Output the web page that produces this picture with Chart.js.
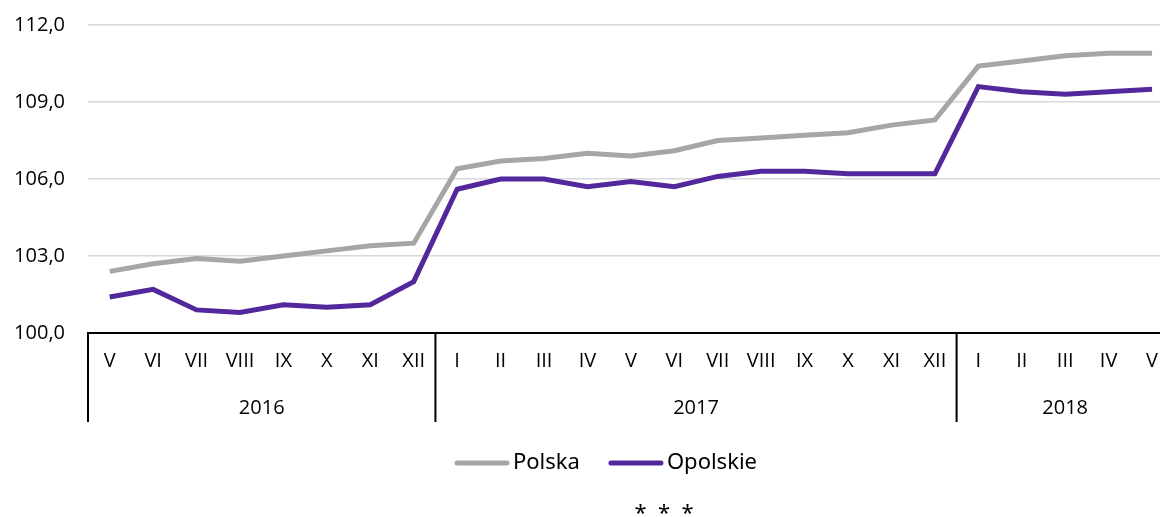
<!DOCTYPE html>
<html>
<head>
<meta charset="utf-8">
<script src="https://cdn.jsdelivr.net/npm/chart.js@4.4.1/dist/chart.umd.min.js"></script>
<style>
  html, body { margin: 0; padding: 0; background: #fff; overflow: hidden; }
  #wrap { position: relative; width: 1174px; height: 517px; }
</style>
</head>
<body>
<div id="wrap"><canvas id="chart"></canvas></div>
<script>
const months = ["V","VI","VII","VIII","IX","X","XI","XII",
  "I","II","III","IV","V","VI","VII","VIII","IX","X","XI","XII",
  "I","II","III","IV","V"];
const years = [
  { label: "2016", from: 0, to: 7 },
  { label: "2017", from: 8, to: 19 },
  { label: "2018", from: 20, to: 24 }
];
const polska = [102.4, 102.7, 102.9, 102.8, 103.0, 103.2, 103.4, 103.5,
  106.4, 106.7, 106.8, 107.0, 106.9, 107.1, 107.5, 107.6, 107.7, 107.8, 108.1, 108.3,
  110.4, 110.6, 110.8, 110.9, 110.9];
const opolskie = [101.4, 101.7, 100.9, 100.8, 101.1, 101.0, 101.1, 102.0,
  105.6, 106.0, 106.0, 105.7, 105.9, 105.7, 106.1, 106.3, 106.3, 106.2, 106.2, 106.2,
  109.6, 109.4, 109.3, 109.4, 109.5];
const yTicks = [100, 103, 106, 109, 112];

const GRAY = "#a6a6a6";
const PURPLE = "#53289c";

// year row, separators, legend and the stars under it
const extras = {
  id: "extras",
  afterDraw(c) {
    const ctx = c.ctx;
    const x = c.scales.x;
    const top = c.chartArea.bottom;
    const half = (x.getPixelForValue(1) - x.getPixelForValue(0)) / 2;
    ctx.save();
    ctx.strokeStyle = "#000";
    ctx.lineWidth = 2;
    ctx.fillStyle = "#000";
    ctx.font = "20px 'Open Sans'";
    ctx.textAlign = "center";
    ctx.textBaseline = "middle";
    years.forEach(y => {
      const l = x.getPixelForValue(y.from) - half;
      const r = x.getPixelForValue(y.to) + half;
      ctx.beginPath();
      ctx.moveTo(l, top);
      ctx.lineTo(l, top + 89);
      ctx.stroke();
      ctx.fillText(y.label, (l + r) / 2, top + 75);
    });

    // legend
    ctx.font = "22px 'Noto Sans'";
    ctx.textAlign = "left";
    ctx.lineCap = "round";
    ctx.lineWidth = 5;
    let lx = 457;
    const ly = 463;
    c.data.datasets.forEach(ds => {
      ctx.strokeStyle = ds.borderColor;
      ctx.beginPath();
      ctx.moveTo(lx, ly);
      ctx.lineTo(lx + 50, ly);
      ctx.stroke();
      ctx.fillStyle = "#000";
      ctx.fillText(ds.label, lx + 56, ly);
      lx += 56 + ctx.measureText(ds.label).width + 31;
    });

    ctx.font = "22px 'Noto Sans'";
    ctx.textAlign = "center";
    ctx.fillText("*  *  *", 664, 514);
    ctx.restore();
  }
};

new Chart(document.getElementById("chart"), {
  type: "line",
  data: {
    labels: months,
    datasets: [
      { label: "Polska", data: polska, borderColor: GRAY, backgroundColor: GRAY,
        borderWidth: 5, pointRadius: 0, tension: 0 },
      { label: "Opolskie", data: opolskie, borderColor: PURPLE, backgroundColor: PURPLE,
        borderWidth: 5, pointRadius: 0, tension: 0 }
    ]
  },
  options: {
    responsive: true,
    maintainAspectRatio: false,
    animation: false,
    layout: { padding: { top: 25, right: 0, bottom: 95, left: 0 } },
    plugins: { legend: { display: false }, tooltip: { enabled: false } },
    scales: {
      x: {
        offset: true,
        grid: { display: false, drawTicks: false },
        border: { display: true, color: "#000", width: 2 },
        ticks: {
          color: "#000", font: { family: "Open Sans", size: 20 },
          padding: 16, maxRotation: 0, autoSkip: false
        },
        afterFit(s) { s.height = 89; }
      },
      y: {
        min: 100, max: 112,
        afterBuildTicks(s) { s.ticks = yTicks.map(v => ({ value: v })); },
        grid: {
          drawTicks: false, lineWidth: 1.5,
          color: ctx => ctx.tick && ctx.tick.value === 100 ? "rgba(0,0,0,0)" : "#d9d9d9"
        },
        border: { display: false },
        ticks: {
          color: "#000", font: { family: "Open Sans", size: 20 }, padding: 23,
          callback: v => v.toFixed(1).replace(".", ",")
        },
        afterFit(s) { s.width = 88; s.paddingTop = 0; s.paddingBottom = 0; }
      }
    }
  },
  plugins: [extras]
});
</script>
</body>
</html>
